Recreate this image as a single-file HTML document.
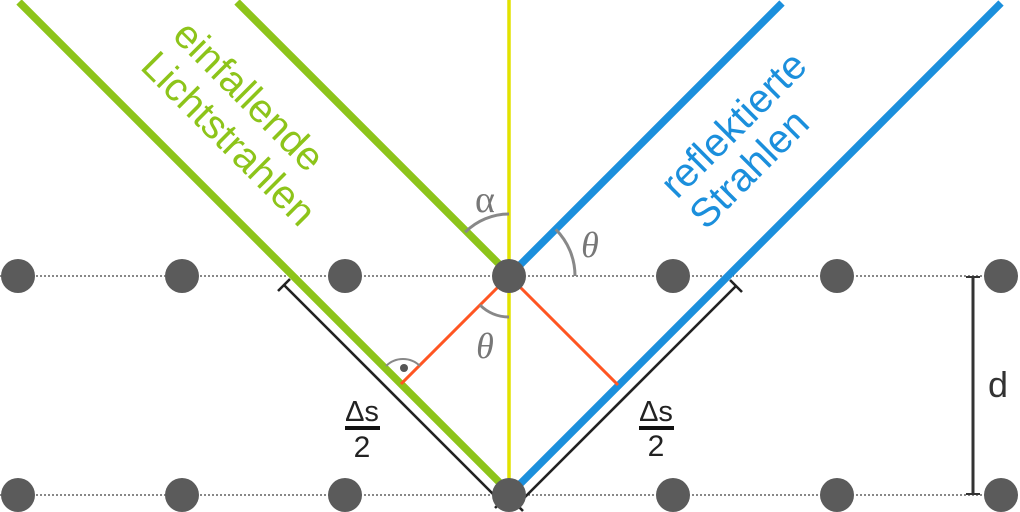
<!DOCTYPE html>
<html><head><meta charset="utf-8"><style>
html,body{margin:0;padding:0;background:#fff;}
svg{display:block;}
</style></head><body>
<svg width="1020" height="512" viewBox="0 0 1020 512" xmlns="http://www.w3.org/2000/svg">
<rect width="1020" height="512" fill="#fff"/>
<!-- dotted lattice planes -->
<line x1="0" y1="276" x2="1020" y2="276" stroke="#111" stroke-width="1" stroke-dasharray="2,2"/>
<line x1="0" y1="495" x2="1020" y2="495" stroke="#111" stroke-width="1" stroke-dasharray="2,2"/>
<!-- incoming green rays -->
<line x1="19" y1="2" x2="506" y2="489" stroke="#8dc41a" stroke-width="7.5"/>
<line x1="237" y1="2" x2="509" y2="274" stroke="#8dc41a" stroke-width="7.5"/>
<!-- reflected blue rays -->
<line x1="509" y1="276" x2="782" y2="3" stroke="#1b8fdc" stroke-width="7.5"/>
<line x1="509" y1="495" x2="1001" y2="3" stroke="#1b8fdc" stroke-width="7.5"/>
<!-- yellow normal -->
<line x1="509" y1="0" x2="509" y2="495" stroke="#e2e200" stroke-width="3.5"/>
<!-- black path difference lines -->
<g stroke="#222" stroke-width="2.6" fill="none">
<line x1="284" y1="285" x2="501" y2="502"/>
<line x1="278" y1="291" x2="290" y2="279"/>
<line x1="495" y1="508" x2="507" y2="496"/>
<line x1="736" y1="286" x2="517" y2="505"/>
<line x1="730" y1="280" x2="742" y2="292"/>
<line x1="511" y1="499" x2="523" y2="511"/>
</g>
<!-- orange perpendiculars -->
<line x1="509" y1="276" x2="401" y2="384" stroke="#ff5522" stroke-width="3"/>
<line x1="509" y1="276" x2="618" y2="385" stroke="#ff5522" stroke-width="3"/>
<!-- angle arcs -->
<g stroke="#888" stroke-width="3" fill="none">
<path d="M465.2,232.2 A62,62 0 0 1 509,214"/>
<path d="M555.7,229.3 A66,66 0 0 1 575,276"/>
<path d="M480,305 A41,41 0 0 0 509,317"/>
</g>
<path d="M386,366 A24,24 0 0 1 420,366" stroke="#888" stroke-width="2" fill="none"/>
<circle cx="404" cy="368" r="4" fill="#555"/>
<!-- atoms -->
<g fill="#5b5b5b">
<circle cx="18" cy="276" r="17"/>
<circle cx="182" cy="276" r="17"/>
<circle cx="345" cy="276" r="17"/>
<circle cx="509" cy="276" r="17"/>
<circle cx="673" cy="276" r="17"/>
<circle cx="837" cy="276" r="17"/>
<circle cx="1001" cy="276" r="17"/>
<circle cx="18" cy="495" r="17"/>
<circle cx="182" cy="495" r="17"/>
<circle cx="345" cy="495" r="17"/>
<circle cx="509" cy="495" r="17"/>
<circle cx="673" cy="495" r="17"/>
<circle cx="837" cy="495" r="17"/>
<circle cx="1001" cy="495" r="17"/>
</g>
<!-- d dimension -->
<line x1="973" y1="277" x2="973" y2="494" stroke="#333" stroke-width="3"/>
<line x1="966" y1="277" x2="980" y2="277" stroke="#333" stroke-width="2"/>
<line x1="966" y1="494" x2="980" y2="494" stroke="#333" stroke-width="2"/>
<text x="988" y="397" font-family="Liberation Sans, sans-serif" font-size="36" fill="#333">d</text>
<!-- angle labels -->
<text x="485" y="212" font-family="Liberation Serif, serif" font-size="38" fill="#777" text-anchor="middle">α</text>
<text x="590" y="257" font-family="Liberation Serif, serif" font-style="italic" font-size="36" fill="#777" text-anchor="middle">θ</text>
<text x="485" y="358" font-family="Liberation Serif, serif" font-style="italic" font-size="36" fill="#777" text-anchor="middle">θ</text>
<!-- delta s / 2 -->
<g font-family="Liberation Sans, sans-serif" fill="#222" text-anchor="middle">
<text x="362" y="421" font-size="29">Δs</text>
<rect x="345" y="426" width="35" height="4" fill="#111"/>
<text x="362" y="457" font-size="30">2</text>
<text x="656" y="421" font-size="29">Δs</text>
<rect x="639" y="426" width="35" height="4" fill="#111"/>
<text x="656" y="456" font-size="30">2</text>
</g>
<!-- ray labels -->
<g font-family="Liberation Sans, sans-serif" font-size="40">
<text transform="translate(171,37) rotate(45)" fill="#8dc41a">einfallende</text>
<text transform="translate(139,68) rotate(45)" fill="#8dc41a">Lichtstrahlen</text>
<text transform="translate(677,200) rotate(-45)" fill="#1b8fdc">reflektierte</text>
<text transform="translate(706,231) rotate(-45)" fill="#1b8fdc">Strahlen</text>
</g>
</svg>
</body></html>
